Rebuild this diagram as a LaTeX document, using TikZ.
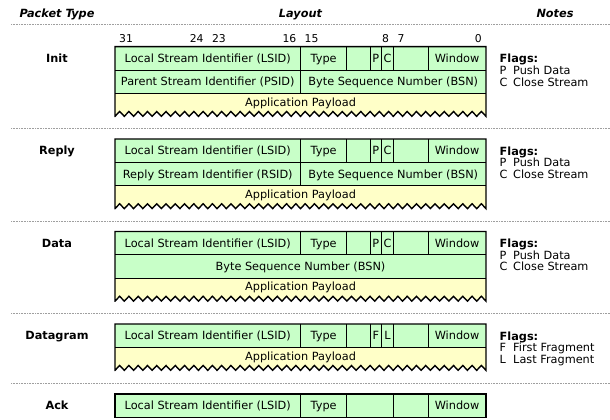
\documentclass[tikz,border=0pt]{standalone}
\usepackage{fontspec}
\setmainfont{DejaVu Sans}
\definecolor{cellgreen}{RGB}{200,255,200}
\definecolor{payyellow}{RGB}{255,255,200}
\def\XL{115}
\def\XM{300.5}
\def\XT{346.9}
\def\XB{370.1}
\def\XP{381.7}
\def\XC{393.3}
\def\XW{428.1}
\def\XR{486}
\def\RH{23.3}
% first row with flags: #1 top, #2 prefix, #3 flag a, #4 flag b
\newcommand{\pktfirstrow}[4]{%
  \fill[cellgreen] (\XL,#1) rectangle (\XR,#1+\RH);
  \draw[innerline] (\XM,#1) -- (\XM,#1+\RH) (\XT,#1) -- (\XT,#1+\RH)
     (\XB,#1) -- (\XB,#1+\RH) (\XP,#1) -- (\XP,#1+\RH)
     (\XC,#1) -- (\XC,#1+\RH) (\XW,#1) -- (\XW,#1+\RH);
  \node[txt] (#2lsid) at (207.75,#1+15.95) {Local Stream Identifier (LSID)};
  \node[txt] (#2type) at (323.7,#1+15.95) {Type};
  \node[txt] (#2fa) at (375.9,#1+15.95) {#3};
  \node[txt] (#2fb) at (387.5,#1+15.95) {#4};
  \node[txt] (#2win) at (457.05,#1+15.95) {Window};
}
% payload row: #1 top of payload, #2 prefix
\newcommand{\pktpayload}[2]{%
  \fill[payyellow] (\XL,#1) -- (\XR,#1) -- (\XR,#1+23)
    \foreach \i in {1,...,40} { -- ++(-4.6375,-4.8) -- ++(-4.6375,4.8) } -- cycle;
  \draw[innerline] (\XL,#1) -- (\XR,#1);
  \node[txt] (#2app) at (300.5,#1+12.8) {Application Payload};
}
% outline with zigzag: #1 top, #2 bottom low
\newcommand{\pktoutline}[2]{%
  \draw[outerline] (\XL,#2) -- (\XL,#1) -- (\XR,#1) -- (\XR,#2)
    \foreach \i in {1,...,40} { -- ++(-4.6375,-4.8) -- ++(-4.6375,4.8) } -- cycle;
}
% notes: #1 top, #2 prefix, #3 letter a, #4 text a, #5 letter b, #6 text b
\newcommand{\pktnotes}[6]{%
  \node[lbl, anchor=base west] (#2flags) at (499.5,#1+16) {Flags:};
  \node[txt, anchor=base west] (#2na) at (499.5,#1+27.6) {#3};
  \node[txt, anchor=base west] (#2nat) at (513,#1+27.6) {#4};
  \node[txt, anchor=base west] (#2nb) at (499.5,#1+39.3) {#5};
  \node[txt, anchor=base west] (#2nbt) at (513,#1+39.3) {#6};
}
\begin{document}
\begin{tikzpicture}[x=1pt,y=-1pt,
  txt/.style={anchor=base,inner sep=0pt,font=\fontsize{11.3}{13}\selectfont},
  hdr/.style={txt,font=\fontsize{11.3}{13}\selectfont\bfseries\itshape},
  lbl/.style={txt,font=\fontsize{11.3}{13}\selectfont\bfseries},
  bitnum/.style={inner sep=0pt,font=\fontsize{10.8}{12}\selectfont},
  innerline/.style={line width=0.9pt},
  outerline/.style={line width=1.4pt, line join=miter},
  sep/.style={draw=gray!75, line width=0.6pt, dash pattern=on 0.8pt off 0.8pt},
]
\useasboundingbox (0,0) rectangle (610,420);
\fill[white] (0,0) rectangle (610,420);

% headers
\node[hdr] (hpt) at (57,17.5) {Packet Type};
\node[hdr] (hlay) at (300.5,17.5) {Layout};
\node[hdr] (hnotes) at (555,17.5) {Notes};

% separators
\draw[sep] (11,24) -- (610,24);
\draw[sep] (11,128) -- (610,128);
\draw[sep] (11,221) -- (610,221);
\draw[sep] (11,313.5) -- (610,313.5);
\draw[sep] (11,383) -- (610,383);

% bit numbers
\node[bitnum, anchor=base west] (b31) at (119,42.5) {31};
\node[bitnum, anchor=base east] (b24) at (203.8,42.5) {24};
\node[bitnum, anchor=base west] (b23) at (211.8,42.5) {23};
\node[bitnum, anchor=base east] (b16) at (296.5,42.5) {16};
\node[bitnum, anchor=base west] (b15) at (304.5,42.5) {15};
\node[bitnum, anchor=base east] (b8) at (389.3,42.5) {8};
\node[bitnum, anchor=base west] (b7) at (397.3,42.5) {7};
\node[bitnum, anchor=base east] (b0) at (482,42.5) {0};

% ---------- Init (top 46.7) ----------
\node[lbl] (init) at (57,62.65) {Init};
\pktfirstrow{46.7}{i}{P}{C}
\fill[cellgreen] (\XL,70) rectangle (\XR,93.3);
\draw[innerline] (\XL,70) -- (\XR,70) (\XM,70) -- (\XM,93.3);
\node[txt] (ipsid) at (207.75,85.95) {Parent Stream Identifier (PSID)};
\node[txt] (ibsn) at (393.25,85.95) {Byte Sequence Number (BSN)};
\pktpayload{93.3}{i}
\pktoutline{46.7}{116.3}
\pktnotes{46.7}{i}{P}{Push Data}{C}{Close Stream}

% ---------- Reply (top 139) ----------
\node[lbl] (reply) at (57,154.95) {Reply};
\pktfirstrow{139}{r}{P}{C}
\fill[cellgreen] (\XL,162.3) rectangle (\XR,185.6);
\draw[innerline] (\XL,162.3) -- (\XR,162.3) (\XM,162.3) -- (\XM,185.6);
\node[txt] (rrsid) at (207.75,178.25) {Reply Stream Identifier (RSID)};
\node[txt] (rbsn) at (393.25,178.25) {Byte Sequence Number (BSN)};
\pktpayload{185.6}{r}
\pktoutline{139}{208.6}
\pktnotes{139}{r}{P}{Push Data}{C}{Close Stream}

% ---------- Data (top 231.5) ----------
\node[lbl] (data) at (57,247.45) {Data};
\pktfirstrow{231.5}{d}{P}{C}
\fill[cellgreen] (\XL,254.8) rectangle (\XR,278.1);
\draw[innerline] (\XL,254.8) -- (\XR,254.8);
\node[txt] (dbsn) at (300.5,270.75) {Byte Sequence Number (BSN)};
\pktpayload{278.1}{d}
\pktoutline{231.5}{301.1}
\pktnotes{231.5}{d}{P}{Push Data}{C}{Close Stream}

% ---------- Datagram (top 324) ----------
\node[lbl] (datagram) at (57,339.95) {Datagram};
\pktfirstrow{324}{g}{F}{L}
\pktpayload{347.3}{g}
\pktoutline{324}{370.3}
\pktnotes{324}{g}{F}{First Fragment}{L}{Last Fragment}

% ---------- Ack (top 394) ----------
\node[lbl] (ack) at (57,409.95) {Ack};
\fill[cellgreen] (\XL,394) rectangle (\XR,417.3);
\draw[innerline] (\XM,394) -- (\XM,417.3) (\XT,394) -- (\XT,417.3)
   (\XC,394) -- (\XC,417.3) (\XW,394) -- (\XW,417.3);
\draw[outerline] (\XL,394) rectangle (\XR,417.3);
\node[txt] (alsid) at (207.75,409.95) {Local Stream Identifier (LSID)};
\node[txt] (atype) at (323.7,409.95) {Type};
\node[txt] (awin) at (457.05,409.95) {Window};
\end{tikzpicture}
\end{document}
